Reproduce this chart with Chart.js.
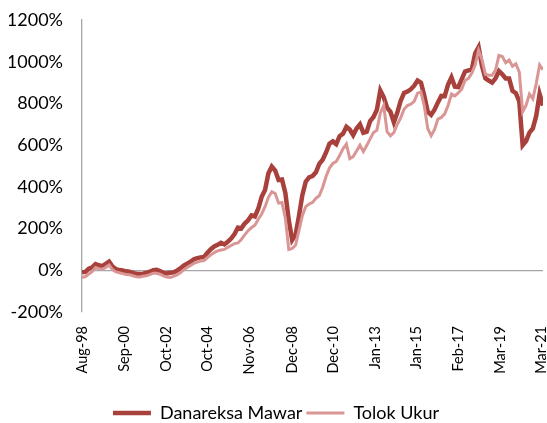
<!DOCTYPE html>
<html>
<head>
<meta charset="utf-8">
<script src="https://cdn.jsdelivr.net/npm/chart.js@4"></script>
<style>
  html, body { margin: 0; padding: 0; background: #fff; }
  #wrap { width: 547px; height: 423px; }
</style>
</head>
<body>
<div id="wrap"><canvas id="perfChart" width="547" height="423"></canvas></div>
<script>
// Series every 2 months starting Aug-98 (cumulative return, %)
const startLabel = "Aug-98";
const stepMonths = 2;

const mawar = [
  -10, -8, 8, 14, 30, 24, 20, 31, 42, 18,
  6, 1, -1, -5, -7, -12, -17, -18, -16, -12,
  -7, 0, 2, -4, -13, -15, -12, -10, -2, 9,
  22, 32, 41, 53, 58, 62, 64, 84, 101, 114,
  122, 132, 124, 137, 152, 174, 205, 201, 224, 240,
  263, 258, 295, 352, 385, 465, 497, 478, 433, 435,
  370, 240, 145, 170, 260, 360, 425, 446, 452, 470,
  510, 530, 565, 607, 618, 605, 643, 655, 688, 675,
  648, 680, 700, 660, 665, 715, 735, 770, 862, 830,
  780, 760, 710, 755, 812, 850, 857, 868, 885, 910,
  900, 835, 760, 745, 770, 805, 836, 835, 890, 925,
  880, 878, 915, 953, 958, 963, 1040, 1070, 980, 920,
  910, 900, 920, 955, 940, 920, 920, 860, 849, 810,
  600, 620, 660, 680, 740, 845, 790
];

const tolokUkur = [
  -35, -30, -18, -6, 13, 8, 5, 14, 25, 3,
  -8, -12, -16, -20, -21, -26, -31, -32, -29, -26,
  -21, -14, -14, -19, -27, -32, -34, -29, -22, -12,
  2, 13, 23, 33, 39, 44, 47, 61, 74, 85,
  93, 97, 100, 110, 119, 128, 131, 148, 170, 190,
  205, 216, 245, 270, 305, 350, 377, 368, 322, 325,
  250, 100, 105, 120, 190, 262, 305, 318, 325, 345,
  357, 398, 450, 490, 512, 522, 550, 582, 605, 535,
  545, 572, 600, 569, 598, 630, 660, 672, 753, 790,
  665, 645, 660, 700, 730, 772, 790, 796, 810, 849,
  855, 785, 680, 645, 675, 725, 733, 750, 790, 845,
  836, 850, 868, 910, 920, 945, 985, 1055, 1010, 940,
  935, 935, 960, 1030, 1025, 995, 1008, 978, 990, 950,
  760, 790, 845, 822, 895, 985, 961
];

const tickLabels = ["Aug-98", "Sep-00", "Oct-02", "Oct-04", "Nov-06", "Dec-08",
                    "Dec-10", "Jan-13", "Jan-15", "Feb-17", "Mar-19", "Mar-21"];

// "Mmm-yy" -> months since startLabel
const MONTHS = ["Jan","Feb","Mar","Apr","May","Jun","Jul","Aug","Sep","Oct","Nov","Dec"];
function monthIndex(lbl) {
  const [m, yy] = lbl.split("-");
  const y = +yy < 50 ? 2000 + +yy : 1900 + +yy;
  return y * 12 + MONTHS.indexOf(m);
}
const base = monthIndex(startLabel);
const tickMonths = tickLabels.map(l => monthIndex(l) - base);

const toPoints = arr => arr.map((v, i) => ({ x: i * stepMonths, y: v }));

const DARK = "#A8403C";
const LIGHT = "#D99694";
const AXIS = "#A6A6A6";
const FONT = "Lato";

const ctx = document.getElementById("perfChart").getContext("2d");
new Chart(ctx, {
  type: "line",
  data: {
    datasets: [
      {
        label: "Danareksa Mawar",
        data: toPoints(mawar),
        borderColor: DARK,
        backgroundColor: DARK,
        borderWidth: 4.5,
        pointRadius: 0,
        tension: 0,
        order: 2
      },
      {
        label: "Tolok Ukur",
        data: toPoints(tolokUkur),
        borderColor: LIGHT,
        backgroundColor: LIGHT,
        borderWidth: 3,
        pointRadius: 0,
        tension: 0,
        order: 1
      }
    ]
  },
  options: {
    responsive: false,
    animation: false,
    layout: { padding: { left: 9, right: 4, top: 20, bottom: -9 } },
    plugins: {
      tooltip: { enabled: false },
      legend: {
        position: "bottom",
        labels: {
          usePointStyle: true,
          pointStyle: "line",
          pointStyleWidth: 38,
          color: "#000",
          font: { family: FONT, size: 18 },
          padding: 4,
          sort: (a, b) => a.datasetIndex - b.datasetIndex
        }
      }
    },
    scales: {
      x: {
        type: "linear",
        min: 0,
        max: mawar.length * stepMonths - stepMonths,
        grid: { display: false },
        border: { display: false },
        afterBuildTicks: (scale) => {
          scale.ticks = tickMonths.map(v => ({ value: v }));
        },
        afterFit: (scale) => {
          scale.paddingLeft = 0;
          scale.paddingRight = 0;
          scale.height = 88;
        },
        ticks: {
          autoSkip: false,
          minRotation: 90,
          maxRotation: 90,
          color: "#000",
          font: { family: FONT, size: 14.5 },
          padding: 6,
          callback: (value, index) => tickLabels[index]
        }
      },
      y: {
        min: -200,
        max: 1200,
        afterFit: (scale) => {
          scale.width = 73;
          scale.paddingTop = 0;
          scale.paddingBottom = 0;
        },
        grid: {
          drawTicks: false,
          color: (c) => (c.tick && c.tick.value === 0 ? AXIS : "transparent"),
          lineWidth: 1.3
        },
        border: { display: true, color: AXIS, width: 1.3 },
        ticks: {
          stepSize: 200,
          color: "#000",
          padding: 19,
          font: { family: FONT, size: 18 },
          callback: (v) => v + "%"
        }
      }
    }
  }
});
</script>
</body>
</html>
